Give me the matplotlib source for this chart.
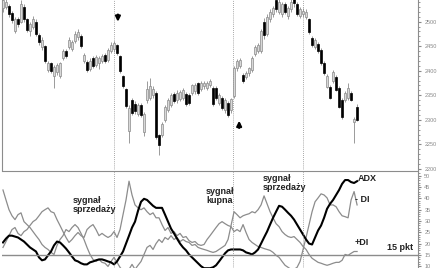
import numpy as np
import matplotlib
matplotlib.use('Agg')
import matplotlib.pyplot as plt

plt.rcParams['font.family'] = ['Liberation Sans', 'DejaVu Sans']

# --- price candles (one per session) ---
opens = [2528, 2530, 2532, 2518, 2480, 2505, 2500, 2530, 2505, 2480,
         2490, 2500, 2472, 2448, 2450, 2402, 2415, 2390, 2398, 2390,
         2425, 2440, 2448, 2445, 2460, 2468, 2470, 2420, 2418, 2404,
         2425, 2412, 2415, 2420, 2432, 2422, 2440, 2445, 2452, 2430,
         2390, 2362, 2278, 2340, 2332, 2312, 2330, 2275, 2340, 2345,
         2350, 2355, 2270, 2270, 2300, 2320, 2330, 2352, 2340, 2342,
         2345, 2352, 2350, 2355, 2358, 2375, 2362, 2368, 2365, 2370,
         2365, 2365, 2335, 2345, 2320, 2335, 2320, 2348, 2405, 2410,
         2392, 2388, 2395, 2402, 2435, 2440, 2440, 2500, 2475, 2505,
         2515, 2545, 2520, 2515, 2535, 2512, 2525, 2546, 2535, 2512,
         2515, 2510, 2505, 2467, 2448, 2455, 2443, 2416, 2367, 2367,
         2380, 2388, 2365, 2341, 2340, 2345, 2355, 2295, 2327]
closes = [2543, 2540, 2515, 2504, 2505, 2495, 2535, 2505, 2482, 2495,
          2505, 2475, 2458, 2462, 2420, 2416, 2400, 2408, 2412, 2415,
          2440, 2430, 2462, 2458, 2475, 2478, 2450, 2432, 2402, 2420,
          2410, 2428, 2425, 2430, 2420, 2442, 2452, 2456, 2436, 2400,
          2368, 2328, 2325, 2315, 2318, 2330, 2310, 2312, 2362, 2368,
          2362, 2265, 2248, 2292, 2326, 2340, 2350, 2338, 2355, 2356,
          2360, 2332, 2335, 2370, 2372, 2355, 2375, 2376, 2376, 2380,
          2332, 2345, 2350, 2325, 2340, 2310, 2342, 2405, 2420, 2422,
          2380, 2396, 2405, 2425, 2448, 2452, 2480, 2472, 2510, 2520,
          2528, 2525, 2540, 2535, 2520, 2528, 2540, 2538, 2516, 2525,
          2522, 2520, 2478, 2452, 2462, 2440, 2416, 2396, 2390, 2345,
          2398, 2361, 2327, 2306, 2355, 2365, 2341, 2302, 2300]
highs = [2546, 2546, 2536, 2522, 2510, 2510, 2545, 2535, 2508, 2500,
         2512, 2505, 2476, 2468, 2452, 2420, 2418, 2412, 2416, 2418,
         2444, 2445, 2468, 2462, 2480, 2484, 2474, 2436, 2422, 2425,
         2430, 2432, 2430, 2434, 2436, 2446, 2458, 2460, 2455, 2432,
         2392, 2365, 2330, 2345, 2338, 2335, 2334, 2316, 2380, 2385,
         2368, 2358, 2272, 2296, 2330, 2345, 2355, 2356, 2360, 2360,
         2364, 2356, 2354, 2374, 2376, 2378, 2380, 2380, 2380, 2384,
         2368, 2368, 2354, 2348, 2344, 2338, 2345, 2410, 2424, 2426,
         2395, 2400, 2408, 2430, 2452, 2456, 2485, 2508, 2515, 2525,
         2532, 2546, 2546, 2540, 2540, 2532, 2546, 2546, 2540, 2530,
         2528, 2525, 2508, 2470, 2466, 2458, 2446, 2420, 2394, 2370,
         2402, 2392, 2368, 2344, 2358, 2376, 2358, 2306, 2333]
lows = [2520, 2525, 2510, 2498, 2476, 2490, 2498, 2500, 2478, 2470,
        2485, 2470, 2452, 2442, 2415, 2398, 2396, 2365, 2392, 2386,
        2422, 2425, 2444, 2440, 2456, 2462, 2446, 2416, 2398, 2400,
        2405, 2408, 2404, 2416, 2416, 2418, 2436, 2438, 2432, 2396,
        2364, 2325, 2252, 2310, 2312, 2308, 2305, 2268, 2335, 2340,
        2345, 2262, 2229, 2266, 2296, 2316, 2326, 2334, 2335, 2338,
        2340, 2328, 2330, 2350, 2352, 2350, 2358, 2362, 2360, 2366,
        2328, 2340, 2330, 2320, 2315, 2305, 2315, 2345, 2400, 2405,
        2376, 2384, 2390, 2398, 2430, 2436, 2436, 2465, 2470, 2500,
        2510, 2520, 2515, 2510, 2515, 2506, 2520, 2530, 2512, 2508,
        2510, 2505, 2474, 2448, 2444, 2436, 2412, 2392, 2364, 2342,
        2376, 2358, 2324, 2302, 2336, 2340, 2338, 2253, 2297]

# --- ADX / DMI ---
adx = [20.5, 22.2, 23.5, 23.5, 23.1, 22.7, 21.8, 20.9, 19.6, 18.3,
       17.4, 16.5, 13.9, 12.6, 13.0, 14.8, 16.5, 19.2, 20.9, 20.5,
       19.2, 17.8, 16.1, 14.3, 12.6, 12.1, 11.3, 10.8, 10.8, 11.7,
       12.1, 12.6, 13.0, 13.0, 12.6, 12.1, 11.7, 10.8, 12.1, 14.3,
       16.5, 20.0, 23.5, 27.1, 29.7, 34.5, 38.5, 39.8, 39.3, 38.0,
       36.7, 35.8, 35.8, 35.8, 32.8, 29.7, 26.6, 24.5, 22.2, 20.0,
       18.3, 17.0, 15.2, 13.9, 12.6, 11.3, 10.0, 9.1, 9.1, 9.1,
       9.5, 10.4, 12.1, 13.9, 15.7, 17.0, 17.4, 17.4, 17.4, 17.4,
       17.0, 16.1, 15.7, 15.2, 16.1, 17.4, 20.0, 22.7, 25.3, 28.4,
       31.4, 34.1, 36.7, 36.3, 35.0, 33.6, 32.3, 30.6, 28.4, 26.2,
       24.0, 21.8, 20.0, 19.6, 22.7, 25.8, 28.0, 31.4, 35.4, 37.6,
       39.3, 41.5, 43.7, 46.4, 48.1, 48.1, 47.2, 46.8, 47.6]
plus_di = [43.7, 39.3, 35.0, 32.3, 30.6, 32.8, 33.6, 29.7, 28.4, 27.1,
           25.3, 23.5, 21.8, 19.6, 18.3, 17.4, 16.1, 15.2, 19.2, 21.8,
           23.5, 26.2, 25.3, 27.1, 28.4, 27.1, 24.5, 21.8, 18.3, 15.2,
           13.0, 12.1, 13.0, 11.7, 11.3, 9.9, 12.1, 13.9, 11.7, 9.5,
           7.8, 6.4, 8.6, 10.8, 8.6, 10.4, 12.1, 15.2, 18.3, 19.2,
           17.4, 20.0, 21.8, 20.5, 22.7, 21.8, 23.5, 21.8, 22.7, 20.9,
           21.8, 20.9, 20.5, 19.2, 19.6, 18.3, 17.8, 17.4, 17.0, 16.5,
           16.1, 16.5, 17.4, 18.3, 19.2, 21.8, 28.0, 34.1, 32.8, 31.4,
           32.3, 32.8, 33.2, 34.1, 33.6, 35.0, 37.1, 41.1, 37.6, 34.1,
           31.4, 28.8, 27.5, 25.3, 24.0, 23.1, 22.7, 23.1, 21.8, 20.5,
           18.7, 17.4, 15.2, 13.5, 12.6, 11.7, 11.3, 10.8, 10.4, 10.8,
           11.3, 11.7, 11.7, 12.6, 15.2, 14.8, 15.7, 16.5, 16.5]
minus_di = [18.3, 20.9, 23.5, 26.2, 27.1, 24.5, 23.5, 25.3, 26.2, 28.0,
            29.7, 30.6, 32.3, 34.1, 35.0, 35.8, 34.1, 33.6, 30.6, 28.0,
            25.3, 22.7, 20.5, 21.8, 23.5, 24.9, 23.5, 22.7, 26.2, 27.5,
            28.4, 26.2, 23.5, 24.5, 23.5, 22.7, 23.5, 25.3, 22.7, 26.2,
            32.8, 39.3, 47.6, 41.5, 37.1, 35.8, 35.0, 35.8, 34.1, 32.8,
            33.6, 31.4, 31.4, 28.4, 25.8, 27.1, 24.5, 25.3, 23.5, 24.5,
            22.7, 23.1, 21.3, 20.5, 20.9, 19.6, 19.2, 19.6, 21.8, 23.5,
            25.3, 27.1, 28.8, 29.7, 28.8, 28.0, 27.5, 25.3, 26.2, 25.3,
            28.4, 24.9, 21.8, 20.5, 19.6, 18.7, 18.3, 17.8, 17.4, 17.0,
            16.1, 14.8, 13.9, 12.1, 10.4, 9.5, 8.6, 8.6, 9.5, 12.1,
            17.4, 22.7, 28.4, 34.1, 38.5, 40.2, 42.0, 41.5, 40.2, 37.1,
            37.1, 36.3, 34.1, 32.3, 31.9, 31.4, 39.3, 43.0, 37.1]

signal_days = [37, 76.7, 100]
threshold = 15

o = np.array(opens, float)
c = np.array(closes, float)
days = np.arange(len(o))
up = c >= o

fig = plt.figure(figsize=(4.39, 2.68), dpi=100)
fig.patch.set_facecolor('white')
ax1 = fig.add_axes([2 / 439, 98 / 268, 416 / 439, 170 / 268])
ax2 = fig.add_axes([2 / 439, 0, 416 / 439, 97 / 268])

xlim = (-0.33, 138.3)

# candles
ax1.vlines(days, lows, highs, color='#8a8a8a', linewidth=0.6, zorder=2)
ax1.bar(days[up], (c - o)[up], bottom=o[up], width=0.8,
        color='#d8d8d8', edgecolor='#8a8a8a', linewidth=0.5, zorder=3)
ax1.bar(days[~up], (o - c)[~up], bottom=c[~up], width=0.8,
        color='black', edgecolor='black', linewidth=0.5, zorder=3)

ax1.annotate('', xy=(38.3, 2494), xytext=(38.3, 2520),
             arrowprops=dict(arrowstyle='-|>', color='black', lw=1.6,
                             mutation_scale=7))
ax1.annotate('', xy=(78.7, 2304), xytext=(78.7, 2278),
             arrowprops=dict(arrowstyle='-|>', color='black', lw=1.6,
                             mutation_scale=7))

ax1.set_xlim(xlim)
ax1.set_ylim(2198, 2544)
ax1.set_yticks(np.arange(2200, 2501, 50))
ax1.set_yticks(np.arange(2200, 2541, 10), minor=True)

# indicators
ax2.plot(days, plus_di, color='#8c8c8c', linewidth=0.9)
ax2.plot(days, minus_di, color='#8c8c8c', linewidth=0.9)
ax2.plot(days, adx, color='black', linewidth=1.5)
ax2.axhline(threshold, color='#8c8c8c', linewidth=1.0)
ax2.set_xlim(xlim)
ax2.set_ylim(9.2, 52.1)
ax2.set_yticks(np.arange(10, 51, 5))
ax2.set_yticks(np.arange(10, 52, 1), minor=True)

tb = dict(fontsize=6.5, fontweight='bold', color='#222222', linespacing=1.05)
ax2.text(23.3, 37.1, 'sygnał\nsprzedaży', va='center', ha='left', **tb)
ax2.text(67.7, 41.1, 'sygnał\nkupna', va='center', ha='left', **tb)
ax2.text(86.7, 46.8, 'sygnał\nsprzedaży', va='center', ha='left', **tb)
ax2.text(118.3, 48.6, 'ADX', va='center', ha='left', **tb)
ax2.text(117.3, 39.3, '- DI', va='center', ha='left', **tb)
ax2.text(117.3, 20.5, '+DI', va='center', ha='left', **tb)
ax2.text(128.0, 18.3, '15 pkt', va='center', ha='left', **tb)

for ax in (ax1, ax2):
    for d in signal_days:
        ax.axvline(d, color='#8c8c8c', linewidth=0.6, linestyle=(0, (1, 1.5)))
    ax.set_xticks([])
    ax.yaxis.tick_right()
    ax.tick_params(axis='y', which='major', length=2.5, labelsize=4,
                   colors='#888888', pad=2)
    ax.tick_params(axis='y', which='minor', length=1.3, colors='#888888')
    for s in ax.spines.values():
        s.set_color('#8c8c8c')
        s.set_linewidth(0.8)
ax1.spines['top'].set_visible(False)
ax1.spines['bottom'].set_visible(False)
ax2.spines['left'].set_visible(False)
ax2.spines['bottom'].set_visible(False)

fig.savefig('out.png', dpi=100)
